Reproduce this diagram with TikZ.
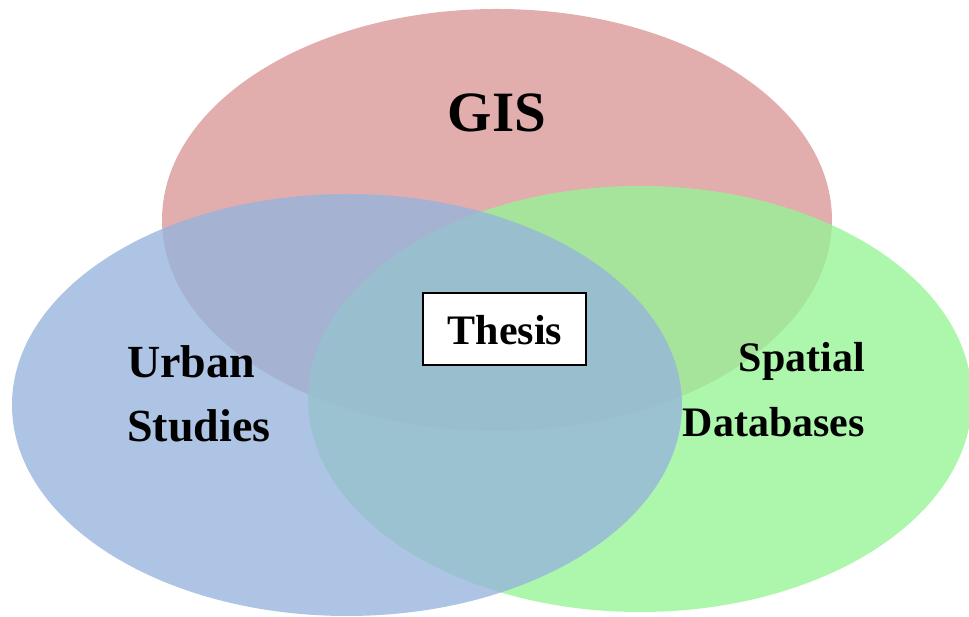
\documentclass[tikz,border=0pt]{standalone}
\usepackage{fontspec}
\setmainfont{Liberation Serif}
\definecolor{gisred}{RGB}{218,150,150}
\definecolor{spgreen}{RGB}{150,245,150}
\definecolor{urbblue}{RGB}{150,180,220}
\begin{document}
\begin{tikzpicture}[x=1pt,y=1pt,
  venn/.style={fill opacity=0.78, draw=none},
  lbl/.style={font=\bfseries, text=black, inner sep=0pt}]
\useasboundingbox (0,0) rectangle (969,617);
\fill[venn, gisred] (497,397) ellipse [x radius=335, y radius=211];
\fill[venn, spgreen] (640,218) ellipse [x radius=332, y radius=213];
\fill[venn, urbblue] (347,212) ellipse [x radius=335, y radius=211];
\node[lbl, font=\fontsize{57}{60}\selectfont\bfseries, anchor=base] (gis) at (497,485) {GIS};
\node[draw=black, line width=1.2pt, fill=white, minimum width=163pt, minimum height=72pt, inner sep=0pt] (thesisbox) at (504.5,288) {};
\node[lbl, font=\fontsize{42}{44}\selectfont\bfseries, anchor=base] (thesis) at (505,272) {Thesis};
\node[lbl, font=\fontsize{46}{48}\selectfont\bfseries, anchor=base west] (urban) at (127,239) {Urban};
\node[lbl, font=\fontsize{46}{48}\selectfont\bfseries, anchor=base west] (studies) at (127,175) {Studies};
\node[lbl, font=\fontsize{42}{44}\selectfont\bfseries, anchor=base east] (spatial) at (865,245) {Spatial};
\node[lbl, font=\fontsize{42}{44}\selectfont\bfseries, anchor=base east] (databases) at (865,180) {Databases};
\end{tikzpicture}
\end{document}
